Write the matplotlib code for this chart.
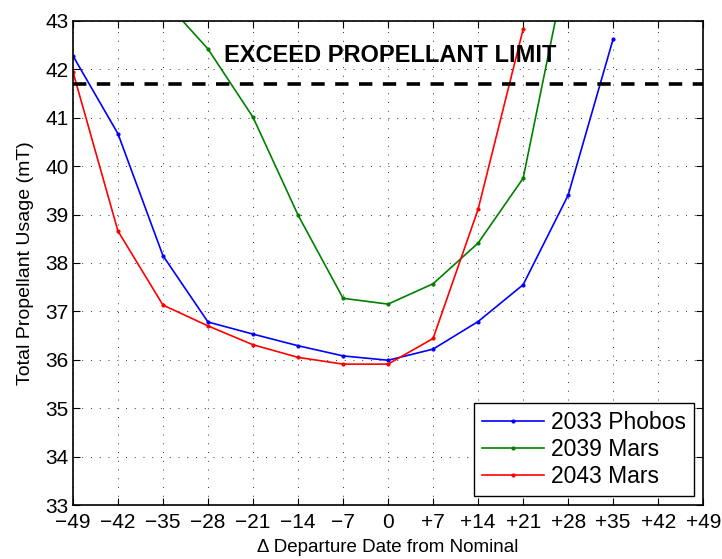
import matplotlib
matplotlib.use("Agg")
import matplotlib.pyplot as plt

plt.rcParams['font.family'] = ['Liberation Sans', 'DejaVu Sans']

# Departure offsets (days from nominal)
days = [-49, -42, -35, -28, -21, -14, -7, 0, 7, 14, 21, 28, 35]

phobos_2033 = [42.28, 40.67, 38.15, 36.78, 36.53, 36.29, 36.08, 35.99, 36.22, 36.79, 37.55, 39.40, 42.63]
mars_2039_days = [-35, -28, -21, -14, -7, 0, 7, 14, 21, 28]
mars_2039 = [43.45, 42.42, 41.01, 38.99, 37.27, 37.15, 37.57, 38.41, 39.75, 44.3]
mars_2043_days = [-49, -42, -35, -28, -21, -14, -7, 0, 7, 14, 21]
mars_2043 = [41.95, 38.66, 37.13, 36.70, 36.31, 36.05, 35.91, 35.91, 36.44, 39.11, 42.83]

propellant_limit = 41.70

xticks = [-49, -42, -35, -28, -21, -14, -7, 0, 7, 14, 21, 28, 35, 42, 49]
xtick_labels = ['\u221249', '\u221242', '\u221235', '\u221228', '\u221221', '\u221214', '\u22127', '0',
                '+7', '+14', '+21', '+28', '+35', '+42', '+49']
yticks = list(range(33, 44))

fig = plt.figure(figsize=(7.22, 5.59), dpi=100)
ax = fig.add_axes([0.101, 0.0966, 0.873, 0.866])

ax.plot(days, phobos_2033, color=(0, 0, 1), lw=1.2, marker='.', ms=4, label='2033 Phobos')
ax.plot(mars_2039_days, mars_2039, color=(0, 0.5, 0), lw=1.2, marker='.', ms=4, label='2039 Mars')
ax.plot(mars_2043_days, mars_2043, color=(1, 0, 0), lw=1.2, marker='.', ms=4, label='2043 Mars')

ax.axhline(propellant_limit, color='black', lw=2.6, linestyle=(0, (3.7, 2.9)))
ax.text(0.3, 42.28, 'EXCEED PROPELLANT LIMIT', ha='center', va='center',
        fontsize=17, fontweight='bold')

ax.set_xlim(-49, 49)
ax.set_ylim(33, 43)
ax.set_xticks(xticks)
ax.set_xticklabels(xtick_labels)
ax.set_yticks(yticks)
ax.tick_params(direction='in', top=True, right=True, labelsize=15, length=5, width=0.8)
ax.tick_params(axis='x', pad=6)
ax.tick_params(axis='y', pad=3)
ax.grid(True, linestyle=(0, (1, 8)), color='#333333', lw=0.7)
for s in ax.spines.values():
    s.set_linewidth(1.2)

ax.set_xlabel('\u0394 Departure Date from Nominal', fontsize=13.5, labelpad=5)
ax.set_ylabel('Total Propellant Usage (mT)', fontsize=14, labelpad=8)

leg = ax.legend(loc='lower right', fontsize=16.5, frameon=True, fancybox=False,
                edgecolor='black', framealpha=1, borderaxespad=0.4,
                handlelength=2.7, handletextpad=0.3, labelspacing=0.18, borderpad=0.35)
leg.get_frame().set_linewidth(1.0)

fig.savefig('out.png', dpi=100)
